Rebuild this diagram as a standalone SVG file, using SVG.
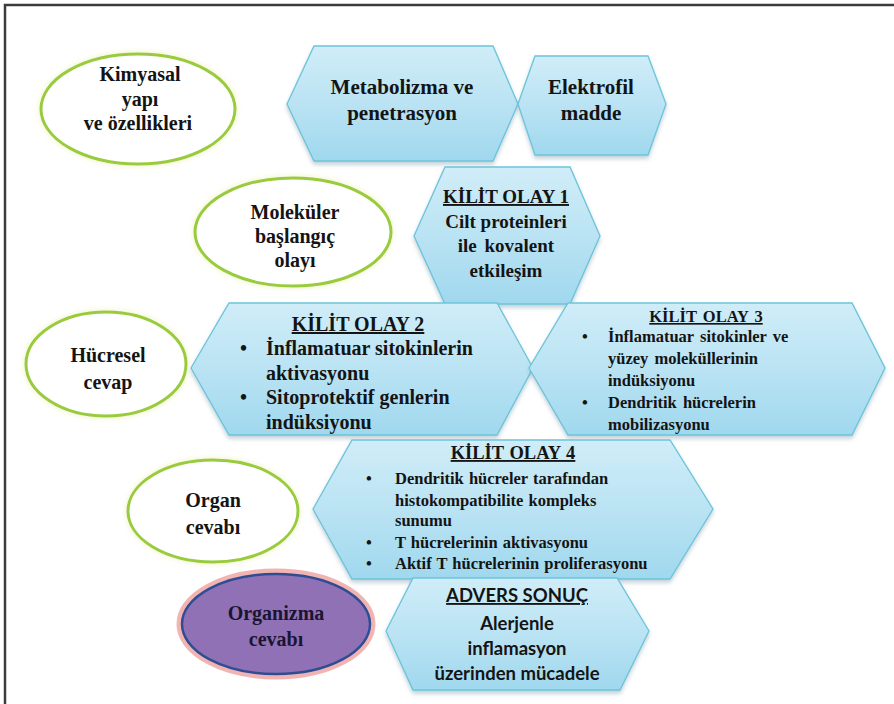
<svg xmlns="http://www.w3.org/2000/svg" width="894" height="704" viewBox="0 0 894 704">
<defs>
<linearGradient id="hexg" x1="0" y1="0" x2="0" y2="1">
<stop offset="0" stop-color="#D0EDF8"/>
<stop offset="0.5" stop-color="#BAE3F3"/>
<stop offset="1" stop-color="#A0D8EE"/>
</linearGradient>
<filter id="sh" x="-10%" y="-10%" width="120%" height="130%">
<feGaussianBlur in="SourceAlpha" stdDeviation="2"/>
<feOffset dx="0" dy="3" result="b"/>
<feFlood flood-color="#7a9aa8" flood-opacity="0.45"/>
<feComposite in2="b" operator="in"/>
<feMerge><feMergeNode/><feMergeNode in="SourceGraphic"/></feMerge>
</filter>
<filter id="glow" x="-20%" y="-20%" width="140%" height="140%">
<feGaussianBlur in="SourceAlpha" stdDeviation="3" result="b"/>
<feFlood flood-color="#E8E89A" flood-opacity="0.6"/>
<feComposite in2="b" operator="in"/>
<feMerge><feMergeNode/><feMergeNode in="SourceGraphic"/></feMerge>
</filter>
</defs>
<style>
.hex{fill:url(#hexg);stroke:#6CC4DB;stroke-width:1.3;filter:url(#sh)}
.ell{fill:#fff;stroke:#98CB3C;stroke-width:3;filter:url(#glow)}
.t{font-family:'Liberation Serif','Times New Roman',serif;font-weight:bold;fill:#141414}
.c{text-anchor:middle}
.e{font-size:20px}
.b2{font-size:20px}
.b3{font-size:16.5px;word-spacing:2px}
.b4{font-size:16.5px;word-spacing:1px}
.u{text-decoration:underline}
.sans{font-family:Lato,'Open Sans',sans-serif;font-weight:bold;font-size:18.5px;fill:#141414}
</style>
<rect x="0" y="0" width="894" height="704" fill="#fff"/>
<g id="frame"><path d="M5 704 V5 H894" fill="none" stroke="#3c3c3c" stroke-width="2.5"/></g>
<g id="connectors"></g>

<g id="n-kimyasal">
<ellipse class="ell" cx="138" cy="109" rx="97" ry="55"/>
<text class="t c e" x="140"><tspan x="140" y="81">Kimyasal</tspan><tspan x="140" y="106">yapı</tspan><tspan x="138" y="130">ve özellikleri</tspan></text>
</g>

<g id="n-metabolizma">
<polygon class="hex" points="287,104 314,46 493,46 518,104 493,161 314,161"/>
<text class="t c" x="402" style="font-size:21px"><tspan x="402" y="94">Metabolizma ve</tspan><tspan x="402" y="120">penetrasyon</tspan></text>
</g>

<g id="n-elektrofil">
<polygon class="hex" points="518,104 535,56 648,56 666,104 648,155 535,155"/>
<text class="t c" x="591" style="font-size:21px"><tspan x="591" y="94">Elektrofil</tspan><tspan x="591" y="120">madde</tspan></text>
</g>

<g id="n-molekuler">
<ellipse class="ell" cx="293" cy="232" rx="98" ry="54"/>
<text class="t c e" x="295"><tspan x="295" y="219">Moleküler</tspan><tspan x="295" y="243">başlangıç</tspan><tspan x="295" y="267">olayı</tspan></text>
</g>

<g id="n-ko1">
<polygon class="hex" points="414,236 445,167 570,167 600,236 570,304 445,304"/>
<text class="t c" x="506" style="font-size:19px"><tspan class="u" x="506" y="203">KİLİT OLAY 1</tspan><tspan x="506" y="228">Cilt proteinleri</tspan><tspan x="506" y="252" style="word-spacing:3px">ile kovalent</tspan><tspan x="506" y="277">etkileşim</tspan></text>
</g>

<g id="n-hucresel">
<ellipse class="ell" cx="106" cy="364" rx="80" ry="52"/>
<text class="t c e" x="108"><tspan x="108" y="362">Hücresel</tspan><tspan x="108" y="389">cevap</tspan></text>
</g>

<g id="n-ko2">
<polygon class="hex" points="191,368 229,303 497,303 533,368 497,435 229,435"/>
<text class="t c b2 u" x="358" y="331">KİLİT OLAY 2</text>
<text class="t b2"><tspan x="240" y="355">•</tspan><tspan x="240" y="404">•</tspan></text>
<text class="t b2"><tspan x="266" y="355">İnflamatuar sitokinlerin</tspan><tspan x="266" y="380">aktivasyonu</tspan><tspan x="266" y="404">Sitoprotektif genlerin</tspan><tspan x="266" y="429">indüksiyonu</tspan></text>
</g>

<g id="n-ko3">
<polygon class="hex" points="529,368 568,303 852,303 885,368 852,435 568,435"/>
<text class="t c b3 u" x="706" y="322">KİLİT OLAY 3</text>
<text class="t b3"><tspan x="582" y="342">•</tspan><tspan x="582" y="408">•</tspan></text>
<text class="t b3"><tspan x="608" y="342">İnflamatuar sitokinler ve</tspan><tspan x="608" y="364">yüzey moleküllerinin</tspan><tspan x="608" y="386">indüksiyonu</tspan><tspan x="608" y="408">Dendritik hücrelerin</tspan><tspan x="608" y="430">mobilizasyonu</tspan></text>
</g>

<g id="n-organ">
<ellipse class="ell" cx="213" cy="511" rx="85" ry="51"/>
<text class="t c e" x="213"><tspan x="213" y="507">Organ</tspan><tspan x="213" y="534">cevabı</tspan></text>
</g>

<g id="n-ko4">
<polygon class="hex" points="313,509 352,440 670,440 713,509 670,579 352,579"/>
<text class="t c b4 u" x="513" y="459" style="font-size:18.5px">KİLİT OLAY 4</text>
<text class="t b4"><tspan x="366" y="484">•</tspan><tspan x="366" y="548">•</tspan><tspan x="366" y="569">•</tspan></text>
<text class="t b4"><tspan x="395" y="484">Dendritik  hücreler tarafından</tspan><tspan x="395" y="506">histokompatibilite  kompleks</tspan><tspan x="395" y="526">sunumu</tspan><tspan x="395" y="548">T hücrelerinin  aktivasyonu</tspan><tspan x="395" y="569">Aktif T hücrelerinin  proliferasyonu</tspan></text>
</g>

<g id="n-organizma">
<ellipse cx="276" cy="624" rx="96" ry="52" fill="none" stroke="#F2B3B3" stroke-width="7"/>
<ellipse cx="276" cy="624" rx="94" ry="50" fill="#9171B6" stroke="#2F4E92" stroke-width="2.5"/>
<text class="t c e" x="276" style="fill:#1a1530"><tspan x="276" y="620">Organizma</tspan><tspan x="276" y="646">cevabı</tspan></text>
</g>

<g id="n-advers">
<polygon class="hex" points="386,631 413,578 617,578 649,631 620,690 413,690"/>
<text class="sans c" x="517"><tspan class="u" x="517" y="602">ADVERS SONUÇ</tspan><tspan x="517" y="630">Alerjenle</tspan><tspan x="517" y="655">inflamasyon</tspan><tspan x="517" y="680">üzerinden mücadele</tspan></text>
</g>
</svg>
